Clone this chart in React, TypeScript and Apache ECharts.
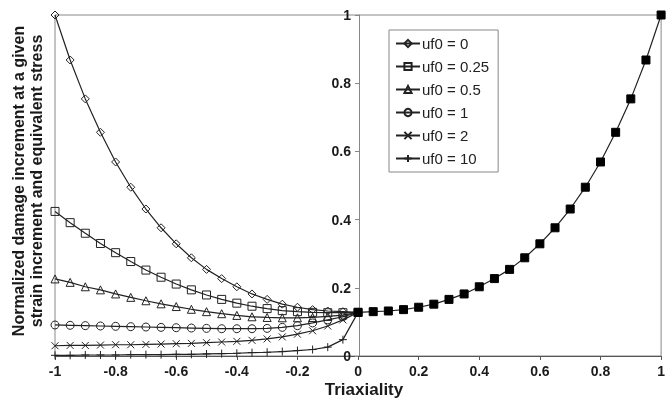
import React, { useEffect, useRef } from "react";
import * as echarts from "echarts";

// Triaxiality values
const xLeft = [-1, -0.95, -0.9, -0.85, -0.8, -0.75, -0.7, -0.65, -0.6, -0.55, -0.5, -0.45, -0.4, -0.35, -0.3, -0.25, -0.2, -0.15, -0.1, -0.05, 0];
const xRight = [0, 0.05, 0.1, 0.15, 0.2, 0.25, 0.3, 0.35, 0.4, 0.45, 0.5, 0.55, 0.6, 0.65, 0.7, 0.75, 0.8, 0.85, 0.9, 0.95, 1];

// Series values (negative triaxiality branch)
const uf0_0 = [1.0, 0.868, 0.754, 0.656, 0.569, 0.495, 0.431, 0.376, 0.329, 0.288, 0.254, 0.227, 0.203, 0.182, 0.166, 0.152, 0.143, 0.136, 0.132, 0.13, 0.128];
const uf0_025 = [0.424, 0.391, 0.36, 0.33, 0.303, 0.277, 0.252, 0.231, 0.211, 0.194, 0.179, 0.166, 0.155, 0.146, 0.139, 0.133, 0.13, 0.128, 0.127, 0.127, 0.128];
const uf0_05 = [0.226, 0.216, 0.203, 0.194, 0.182, 0.172, 0.162, 0.153, 0.145, 0.137, 0.13, 0.124, 0.119, 0.115, 0.113, 0.112, 0.112, 0.113, 0.116, 0.12, 0.128];
const uf0_1 = [0.091, 0.09, 0.089, 0.088, 0.087, 0.086, 0.085, 0.084, 0.083, 0.082, 0.081, 0.08, 0.08, 0.08, 0.081, 0.084, 0.089, 0.097, 0.106, 0.115, 0.128];
const uf0_2 = [0.03, 0.031, 0.031, 0.032, 0.033, 0.033, 0.034, 0.035, 0.036, 0.037, 0.039, 0.041, 0.043, 0.046, 0.05, 0.056, 0.064, 0.074, 0.088, 0.106, 0.128];
const uf0_10 = [0.002, 0.002, 0.003, 0.003, 0.003, 0.004, 0.004, 0.004, 0.005, 0.005, 0.006, 0.007, 0.008, 0.01, 0.011, 0.013, 0.016, 0.019, 0.026, 0.048, 0.128];
// Positive triaxiality branch (common to all)
const rightCurve = [0.128, 0.13, 0.132, 0.136, 0.143, 0.152, 0.166, 0.182, 0.203, 0.227, 0.254, 0.288, 0.329, 0.376, 0.431, 0.495, 0.569, 0.656, 0.754, 0.868, 1.0];

const seriesNames = ["uf0 = 0", "uf0 = 0.25", "uf0 = 0.5", "uf0 = 1", "uf0 = 2", "uf0 = 10"];
const seriesValues = [uf0_0, uf0_025, uf0_05, uf0_1, uf0_2, uf0_10];
const seriesSymbols = [
  "diamond",
  "rect",
  "triangle",
  "circle",
  "path://M0,0L10,10M10,0L0,10",
  "path://M5,0L5,10M0,5L10,5",
];
const seriesSymbolSizes = [8, 8, 8, 8, 7, 8];

const xAxisTitle = "Triaxiality";
const yAxisTitle = "Normalized damage increment at a given\nstrain increment and equivalent stress";

const FONT = "'Liberation Sans', Arial, sans-serif";
const LINE = "#222";

const GRID_LEFT = 55;
const GRID_RIGHT = 5;
const WIDTH = 668;

export default function App() {
  const ref = useRef<HTMLDivElement>(null);
  useEffect(() => {
    if (!ref.current) return;
    const chart = echarts.init(ref.current, undefined, { renderer: "svg" });
    const series: any[] = seriesNames.map((name, i) => ({
      name,
      type: "line",
      data: xLeft.map((x, j) => [x, seriesValues[i][j]]),
      symbol: seriesSymbols[i],
      symbolSize: seriesSymbolSizes[i],
      showAllSymbol: true,
      lineStyle: { color: LINE, width: 1.2 },
      itemStyle: { color: "rgba(255,255,255,0)", borderColor: LINE, borderWidth: 1 },
      emphasis: { disabled: true },
      z: 2 + i,
    }));
    series.push({
      name: "positive",
      type: "line",
      data: xRight.map((x, j) => [x, rightCurve[j]]),
      symbol: "rect",
      symbolSize: 8,
      showAllSymbol: true,
      lineStyle: { color: LINE, width: 1.2 },
      itemStyle: { color: "#000", borderColor: "#000", borderWidth: 1 },
      emphasis: { disabled: true },
      z: 10,
    });
    const plotW = WIDTH - GRID_LEFT - GRID_RIGHT;
    chart.setOption({
      animation: false,
      grid: {
        left: GRID_LEFT,
        right: GRID_RIGHT,
        top: 15,
        bottom: 44,
        show: true,
        borderColor: "#888",
        borderWidth: 1,
        backgroundColor: "transparent",
      },
      legend: {
        data: seriesNames,
        orient: "vertical",
        left: 389,
        top: 30,
        padding: [5, 9, 5, 6],
        itemWidth: 24,
        itemHeight: 9,
        itemGap: 6,
        backgroundColor: "#fff",
        borderColor: "#888",
        borderWidth: 1,
        borderRadius: 0,
        textStyle: { fontFamily: FONT, fontSize: 15, color: "#222", lineHeight: 17, padding: [0, 0, 0, -3] },
      },
      xAxis: {
        type: "value",
        min: -1,
        max: 1,
        interval: 0.2,
        axisLine: { show: true, onZero: false, lineStyle: { color: "#555", width: 1 } },
        axisTick: { show: true, length: 4, lineStyle: { color: "#555" } },
        axisLabel: { fontFamily: FONT, fontSize: 14, fontWeight: "bold", color: "#1a1a1a", margin: 8 },
        splitLine: { show: false },
      },
      yAxis: {
        type: "value",
        min: 0,
        max: 1,
        interval: 0.2,
        position: "left",
        offset: -plotW / 2,
        axisLine: { show: true, onZero: false, lineStyle: { color: "#888", width: 1 } },
        axisTick: { show: true, length: 4, lineStyle: { color: "#888" } },
        axisLabel: { fontFamily: FONT, fontSize: 14, fontWeight: "bold", color: "#1a1a1a", margin: 8 },
        splitLine: { show: false },
      },
      graphic: [
        {
          type: "text",
          x: 364,
          y: 389,
          style: {
            text: xAxisTitle,
            font: `bold 17px ${FONT}`,
            fill: "#1a1a1a",
            textAlign: "center",
            textVerticalAlign: "middle",
          },
        },
        {
          type: "text",
          x: 27,
          y: 181,
          rotation: Math.PI / 2,
          style: {
            text: yAxisTitle,
            font: `bold 16px ${FONT}`,
            lineHeight: 18,
            fill: "#1a1a1a",
            textAlign: "center",
            textVerticalAlign: "middle",
          },
        },
      ],
      series,
    });
    return () => chart.dispose();
  }, []);
  return (
    <div
      ref={ref}
      style={{ position: "fixed", left: 0, top: 0, width: WIDTH, height: 400 }}
    />
  );
}
